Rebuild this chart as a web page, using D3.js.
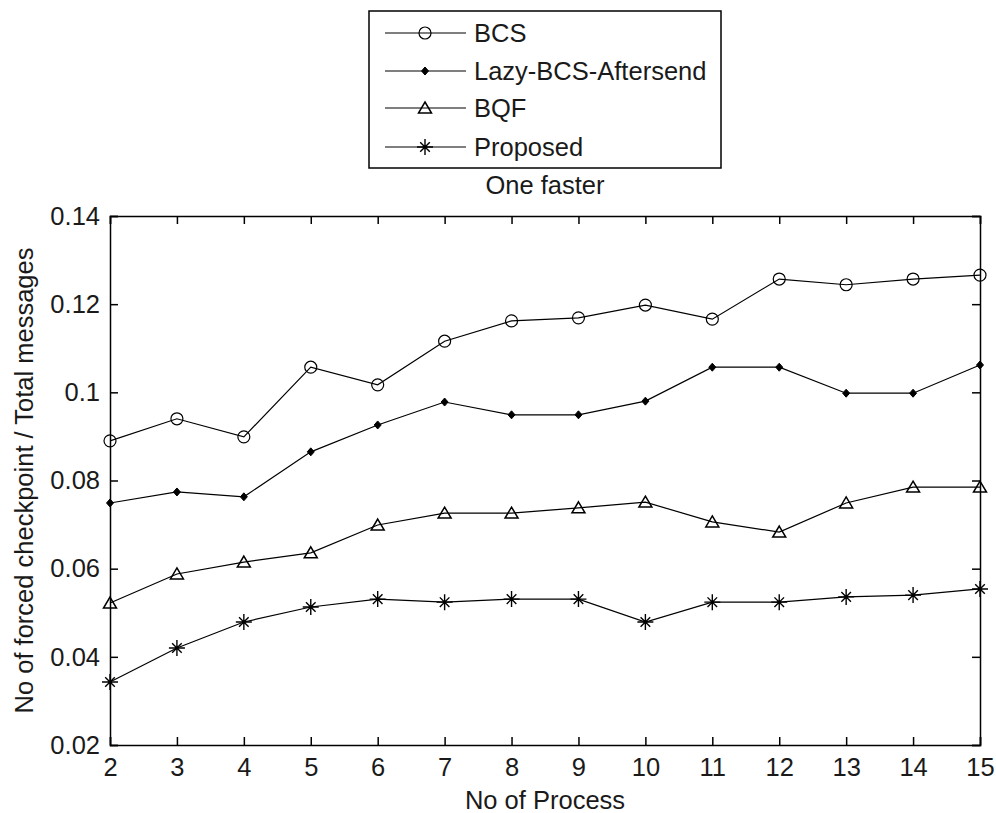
<!DOCTYPE html>
<html>
<head>
<meta charset="utf-8">
<script src="https://cdn.jsdelivr.net/npm/d3@7"></script>
<style>
  html, body { margin: 0; padding: 0; background: #fff; }
  svg { display: block; font-family: "Liberation Sans", Arial, sans-serif; }
</style>
</head>
<body>
<svg id="chart" width="996" height="813"></svg>
<script>
const processes = [2, 3, 4, 5, 6, 7, 8, 9, 10, 11, 12, 13, 14, 15];
const bcs       = [0.089, 0.094, 0.0899, 0.1057, 0.1017, 0.1116, 0.1162, 0.1169, 0.1198, 0.1166, 0.1257, 0.1244, 0.1257, 0.1266];
const lazyBcs   = [0.0749, 0.0774, 0.0763, 0.0865, 0.0926, 0.0978, 0.0949, 0.0949, 0.098, 0.1057, 0.1057, 0.0998, 0.0998, 0.1062];
const bqf       = [0.0522, 0.0588, 0.0615, 0.0636, 0.0699, 0.0726, 0.0726, 0.0738, 0.0751, 0.0706, 0.0683, 0.0749, 0.0785, 0.0785];
const proposed  = [0.0343, 0.042, 0.0479, 0.0513, 0.0531, 0.0524, 0.0531, 0.0531, 0.0479, 0.0524, 0.0524, 0.0536, 0.054, 0.0554];
const seriesNames = ["BCS", "Lazy-BCS-Aftersend", "BQF", "Proposed"];
const yTicks = [0.02, 0.04, 0.06, 0.08, 0.1, 0.12, 0.14];
const yTickLabels = ["0.02", "0.04", "0.06", "0.08", "0.1", "0.12", "0.14"];
const title = "One faster";
const xLabel = "No of Process";
const yLabel = "No of forced checkpoint / Total messages";

const series = [
  { name: seriesNames[0], values: bcs, marker: "circle" },
  { name: seriesNames[1], values: lazyBcs, marker: "dot" },
  { name: seriesNames[2], values: bqf, marker: "triangle" },
  { name: seriesNames[3], values: proposed, marker: "star" }
];

const svg = d3.select("#chart");
const L = 110, R = 980, T = 216, B = 745;
const x = d3.scaleLinear().domain([2, 15]).range([L, R]);
const y = d3.scaleLinear().domain([0.02, 0.14]).range([B, T]);
const fontSize = 25.5;
const textColor = "#1a1a1a";
const fontFam = '"Liberation Sans", Arial, sans-serif';

// Axes box
const tickLen = 8;
const gx = svg.append("g").attr("transform", `translate(0,${B})`)
  .call(d3.axisBottom(x).tickValues(processes).tickSize(-tickLen).tickPadding(13).tickFormat(d3.format("d")));
const gxt = svg.append("g").attr("transform", `translate(0,${T})`)
  .call(d3.axisTop(x).tickValues(processes).tickSize(-tickLen).tickFormat(""));
const gy = svg.append("g").attr("transform", `translate(${L},0)`)
  .call(d3.axisLeft(y).tickValues(yTicks).tickSize(-tickLen).tickPadding(10).tickFormat((d, i) => yTickLabels[i]));
const gyr = svg.append("g").attr("transform", `translate(${R},0)`)
  .call(d3.axisRight(y).tickValues(yTicks).tickSize(-tickLen).tickFormat(""));

[gx, gxt, gy, gyr].forEach(g => {
  g.selectAll(".domain").attr("stroke", "#000").attr("stroke-width", 1.5);
  g.selectAll(".tick line").attr("stroke", "#000").attr("stroke-width", 1.5);
  g.selectAll(".tick text").attr("fill", textColor).style("font-size", fontSize + "px")
    .style("font-family", fontFam);
});
gx.selectAll(".tick text").attr("dy", "0.71em");

// Markers
function drawMarker(g, type, cx, cy) {
  if (type === "circle") {
    g.append("circle").attr("cx", cx).attr("cy", cy).attr("r", 6)
      .attr("fill", "none").attr("stroke", "#000").attr("stroke-width", 1.2);
  } else if (type === "dot") {
    g.append("path").attr("d", `M${cx},${cy - 4}L${cx + 3.5},${cy}L${cx},${cy + 4}L${cx - 3.5},${cy}Z`)
      .attr("fill", "#000").attr("stroke", "#000").attr("stroke-width", 1);
  } else if (type === "triangle") {
    g.append("path").attr("d", `M${cx},${cy - 6}L${cx + 6.5},${cy + 5}L${cx - 6.5},${cy + 5}Z`)
      .attr("fill", "none").attr("stroke", "#000").attr("stroke-width", 1.5);
  } else if (type === "star") {
    const r = 8;
    const p = [];
    p.push(`M${cx},${cy - r}L${cx},${cy + r}`);
    p.push(`M${cx - r},${cy}L${cx + r},${cy}`);
    const d = r * 0.6;
    p.push(`M${cx - d},${cy - d}L${cx + d},${cy + d}`);
    p.push(`M${cx - d},${cy + d}L${cx + d},${cy - d}`);
    g.append("path").attr("d", p.join("")).attr("fill", "none").attr("stroke", "#000").attr("stroke-width", 1.4);
  }
}

const line = d3.line().x((d, i) => x(processes[i])).y(d => y(d));
const plot = svg.append("g");
series.forEach(s => {
  plot.append("path").datum(s.values).attr("d", line)
    .attr("fill", "none").attr("stroke", "#000").attr("stroke-width", 1.2);
  const mg = plot.append("g");
  s.values.forEach((v, i) => drawMarker(mg, s.marker, x(processes[i]), y(v)));
});

// Title
svg.append("text").attr("x", (L + R) / 2).attr("y", 194).attr("text-anchor", "middle")
  .style("font-size", fontSize + "px").attr("fill", textColor).text(title);

// X label
svg.append("text").attr("x", (L + R) / 2).attr("y", 809).attr("text-anchor", "middle")
  .style("font-size", fontSize + "px").attr("fill", textColor).text(xLabel);

// Y label
svg.append("text").attr("transform", `translate(33,${(T + B) / 2}) rotate(-90)`).attr("text-anchor", "middle")
  .style("font-size", fontSize + "px").attr("fill", textColor).text(yLabel);

// Legend
const lg = svg.append("g");
const legW = 352, legX = (L + R) / 2 - legW / 2;
lg.append("rect").attr("x", legX).attr("y", 11).attr("width", legW).attr("height", 157)
  .attr("fill", "#fff").attr("stroke", "#000").attr("stroke-width", 1.5);
const rowY = [33, 71, 108, 147];
series.forEach((s, i) => {
  lg.append("line").attr("x1", legX + 16).attr("x2", legX + 97).attr("y1", rowY[i]).attr("y2", rowY[i])
    .attr("stroke", "#000").attr("stroke-width", 1.2);
  drawMarker(lg, s.marker, legX + 56, rowY[i]);
  lg.append("text").attr("x", legX + 105).attr("y", rowY[i]).attr("dy", "0.35em")
    .style("font-size", fontSize + "px").attr("fill", textColor).text(s.name);
});
</script>
</body>
</html>
